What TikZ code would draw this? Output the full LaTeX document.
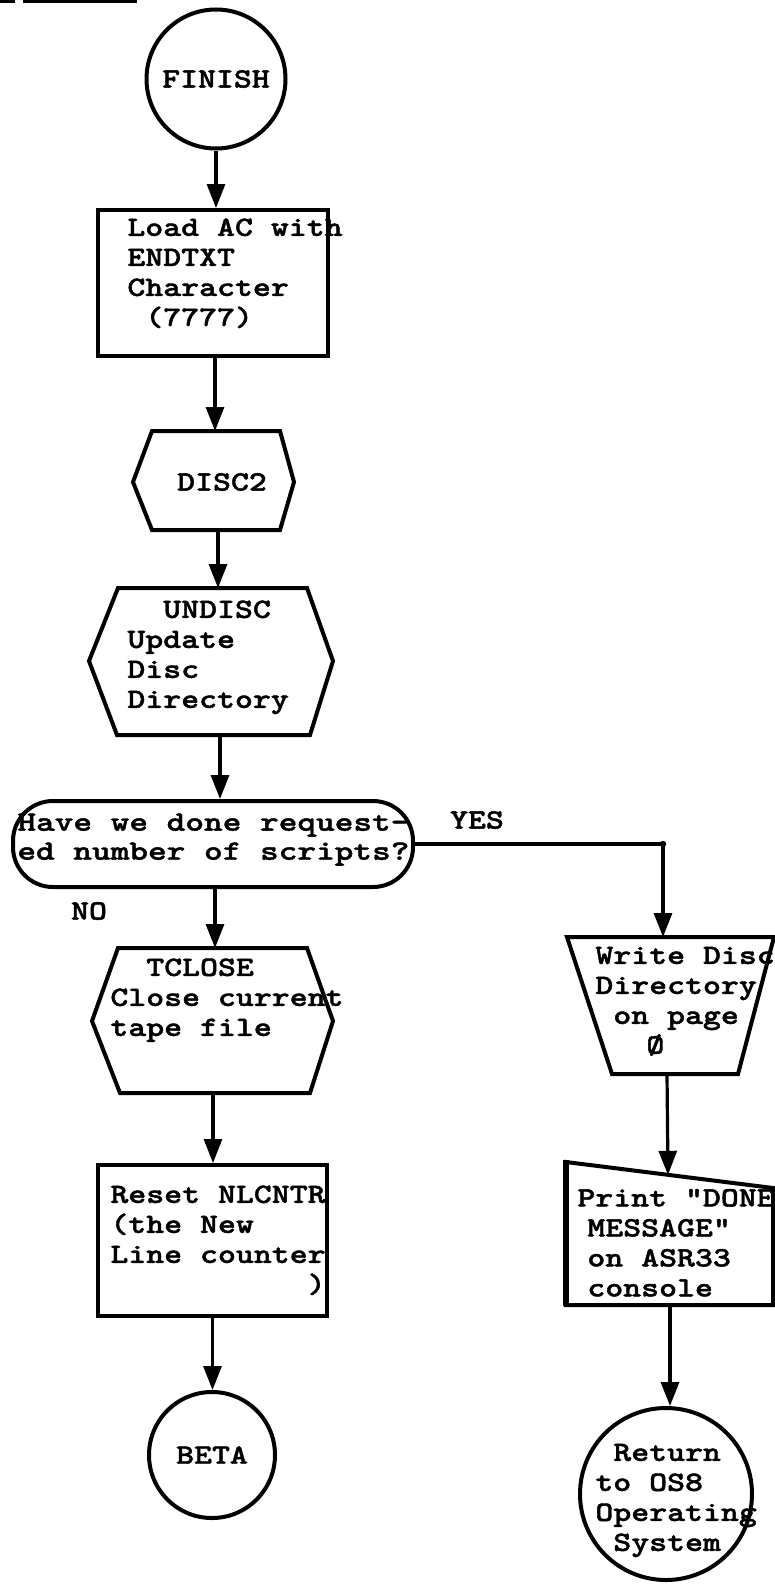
\documentclass[tikz,border=0pt]{standalone}
\usepackage{fontspec}
\newfontfamily\tw{lmmonolt10-bold.otf}[FakeStretch=1.22,FakeBold=1.5]
\newfontfamily\twd{lmmonolt10-bold.otf}[FakeStretch=1.27,FakeBold=1.5]
\newcommand\twf{\tw\fontsize{14pt}{15pt}\selectfont}
\newcommand\twdf{\twd\fontsize{14pt}{14.5pt}\selectfont}
\usetikzlibrary{arrows.meta}
\begin{document}
\begin{tikzpicture}[x=0.5pt,y=-0.5pt,
  shp/.style={draw, line width=2pt},
  conn/.style={draw, line width=1.6pt, -{Triangle[length=12pt,width=9pt]}},
  txt/.style={font=\twf, align=left, inner sep=0pt, anchor=north west},
  ctxt/.style={font=\twf, inner sep=0pt}]
\useasboundingbox (0,0) rectangle (775,1584);
% scan mark
\fill (0,0) rectangle (15,3);
\fill (23,0) rectangle (137,3);

% FINISH
\node[shp, circle, minimum size=69.5pt, inner sep=0pt, font=\twf] (finish) at (216,79) {FINISH};

% Box 1
\node[shp, rectangle, minimum width=115pt, minimum height=73pt, inner sep=0pt] (box1) at (213,283) {};
\node[txt] (t1) at (127,214.5) {\strut Load AC with\\\strut ENDTXT\\\strut Character\\\strut\ (7777)};

% DISC2
\draw[shp] (152,431) -- (280,431) -- (294,482) -- (280,530) -- (152,530) -- (133,482) -- cycle;
\coordinate (d2n) at (215,431);
\coordinate (d2s) at (218,530);
\node[ctxt] (t2) at (222,482) {DISC2};

% UNDISC
\draw[shp] (118,588) -- (307,588) -- (333,661) -- (310,735) -- (117,735) -- (89,661) -- cycle;
\coordinate (un) at (218,588);
\coordinate (us) at (220,735);
\node[txt] (t3) at (127,596.5) {\strut\ \ UNDISC\\\strut Update\\\strut Disc\\\strut Directory};

% Decision
\node[shp, rectangle, rounded corners=20pt, minimum width=200pt, minimum height=43pt, inner sep=0pt] (dec) at (213,844) {};
\node[txt, font=\twdf] (t4) at (17,810) {\strut Have we done request-\\\strut ed number of scripts?};
\node[ctxt] (yes) at (477,820) {YES};
\node[ctxt] (no) at (89,911) {NO};

% TCLOSE
\draw[shp] (118,948) -- (307,948) -- (333,1021) -- (310,1093) -- (120,1093) -- (92,1021) -- cycle;
\coordinate (tcn) at (215,948);
\coordinate (tcs) at (213,1093);
\node[txt] (t5) at (110,954.5) {\strut\ \ TCLOSE\\\strut Close current\\\strut tape file};

% Reset box
\node[shp, rectangle, minimum width=114.5pt, minimum height=75.5pt, inner sep=0pt] (reset) at (212.5,1240.5) {};
\node[txt] (t6) at (110,1181.5) {\strut Reset NLCNTR\\\strut (the New\\\strut Line counter\\\strut\phantom{00000000000})};

% BETA
\node[shp, circle, minimum size=63pt, inner sep=0pt, font=\twf] (beta) at (212,1455) {BETA};

% Write Disc trapezoid
\draw[shp] (567,937) -- (774,937) -- (738,1074) -- (612,1074) -- cycle;
\coordinate (wn) at (663,937);
\coordinate (ws) at (667,1074);
\node[txt] (t7) at (595,942.5) {\strut Write Disc\\\strut Directory\\\strut\ on page};
\node[ctxt, anchor=west] (t7b) at (646,1045) {Ø};

% Print (manual input)
\draw[shp] (566,1162) -- (773,1188) -- (773,1305) -- (566,1305) -- cycle;
\draw[line width=3pt] (566,1160) -- (566,1306);
\coordinate (pn) at (668,1174.8);
\coordinate (ps) at (670,1305);
\node[txt] (t8) at (577,1185) {\strut Print "DONE\\\strut\hspace*{5pt}MESSAGE"\\\strut\hspace*{5pt}on ASR33\\\strut\hspace*{5pt}console};

% Return circle
\node[shp, circle, minimum size=86pt, inner sep=0pt] (ret) at (666,1494) {};
\node[txt] (t9) at (595,1439.5) {\strut\ Return\\\strut to OS8\\\strut Operating\\\strut\ System};

% connectors
\draw[conn] (finish.south) -- (finish.south |- box1.north);
\draw[conn] (box1.south -| d2n) -- (d2n);
\draw[conn] (d2s) -- (d2s |- un);
\draw[conn] (us) -- (us |- dec.north);
\draw[conn] (dec.south -| tcn) -- (tcn);
\draw[conn] (tcs) -- (tcs |- reset.north);
\draw[conn] (reset.south) -- (reset.south |- beta.north);
\draw[conn] (dec.east) -- (wn |- dec.east) -- (wn);
\fill (wn |- dec.east) circle (1.6pt);
\draw[conn] (ws) -- (pn);
\draw[conn] (ps) -- (ps |- ret.north);
\end{tikzpicture}
\end{document}
